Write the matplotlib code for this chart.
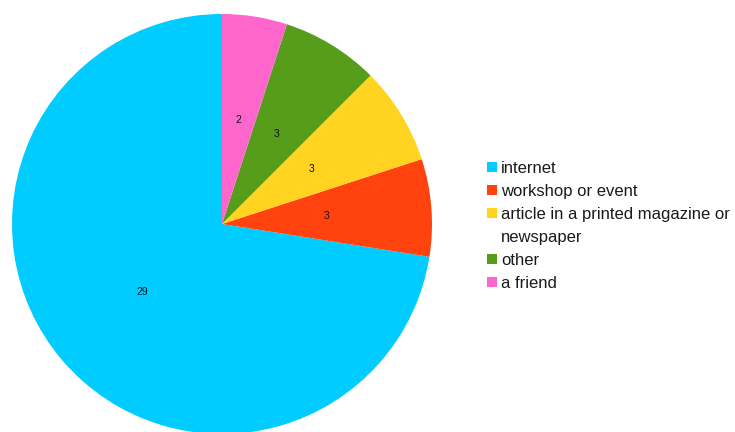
import matplotlib.pyplot as plt
from matplotlib.patches import Rectangle

plt.rcParams['font.family'] = ['Liberation Sans', 'DejaVu Sans']

# how people heard about us
sources = ['internet', 'workshop or event', 'article in a printed magazine or\nnewspaper', 'other', 'a friend']
counts = [29, 3, 3, 3, 2]
colors = ['#00CCFF', '#FF420E', '#FFD320', '#579D1C', '#FF66CC']

fig = plt.figure(figsize=(7.35, 4.32), dpi=100)
W, H = 735, 432

# pie centred at (222, 224) px with radius 210 px
cx, cy, r = 222, 224, 210
ax = fig.add_axes([(cx - r) / W, (H - cy - r) / H, 2 * r / W, 2 * r / H])
ax.pie(counts, colors=colors, startangle=90, counterclock=True, radius=1,
       autopct=lambda p: '%d' % round(p * sum(counts) / 100.0),
       pctdistance=0.5, textprops={'fontsize': 7.5, 'color': '#111111'},
       wedgeprops={'linewidth': 0})
ax.set_xlim(-1, 1)
ax.set_ylim(-1, 1)
ax.set_aspect('equal')
ax.axis('off')

# legend on the right, one row per text line
row = 0
for name, c in zip(sources, colors):
    y = 167 + 23 * row
    fig.add_artist(Rectangle((487 / W, (H - y - 5) / H), 10 / W, 10 / H,
                             transform=fig.transFigure, facecolor=c, edgecolor='none'))
    lines = name.split('\n')
    for i, line in enumerate(lines):
        fig.text(501 / W, (H - y - 23 * i) / H, line, fontsize=12,
                 va='center_baseline', ha='left', color='#1a1a1a')
    row += len(lines)

fig.savefig('out.png', dpi=100)
